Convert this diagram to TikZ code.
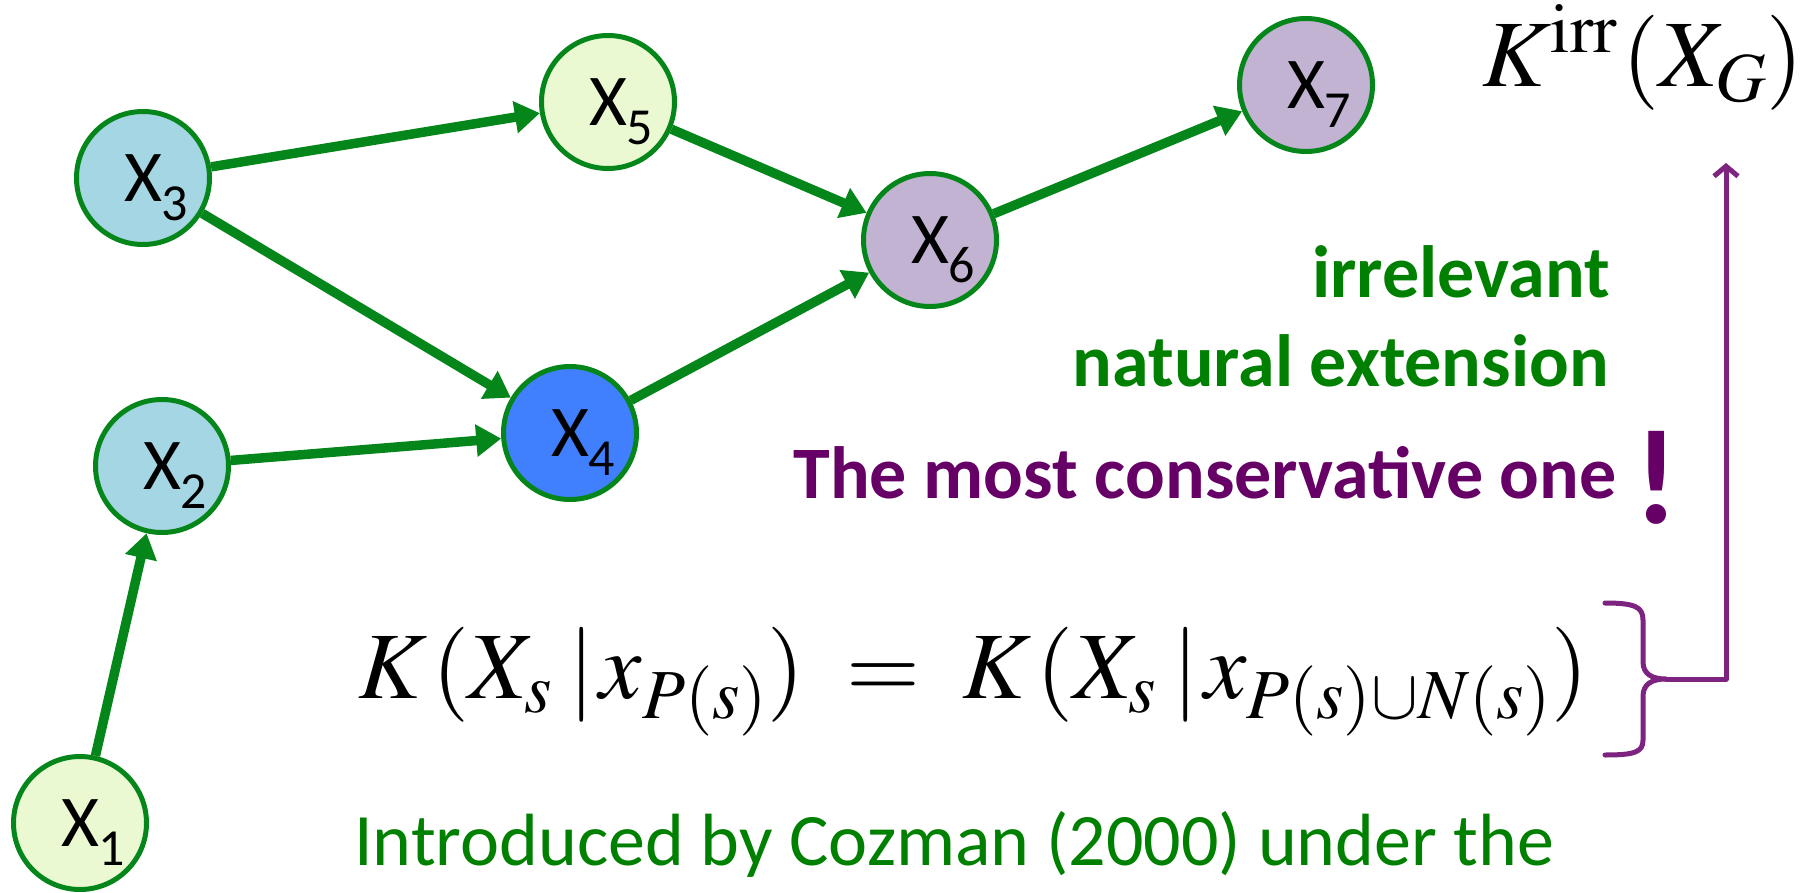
\documentclass[tikz,border=0pt]{standalone}
\usepackage{amsmath}
\usepackage{mathptmx}
\usepackage[no-math]{fontspec}
\setmainfont{Carlito}
\usetikzlibrary{arrows.meta}
\definecolor{edgegreen}{RGB}{5,134,27}
\definecolor{txtgreen}{RGB}{0,128,0}
\definecolor{txtpurple}{RGB}{102,0,102}
\definecolor{brpurple}{RGB}{125,35,128}
\definecolor{fillyellow}{RGB}{235,249,211}
\definecolor{fillblue}{RGB}{165,214,228}
\definecolor{fillstrong}{RGB}{64,128,255}
\definecolor{filllav}{RGB}{193,179,209}
\newcommand{\varlabel}[1]{\fontsize{73}{73}\selectfont X\smash{\rlap{\raisebox{-19pt}{\fontsize{52}{52}\selectfont #1}}}}
\newcommand{\condbar}{\mkern3mu|\mkern1mu}
\begin{document}
\begin{tikzpicture}[x=1pt,y=-1pt,
  var/.style={circle, draw=edgegreen, line width=5pt, minimum size=133pt, inner sep=0pt},
  link/.style={edgegreen, line width=9.5pt, -{Triangle[length=25pt,width=31pt]}},
  boldgreen/.style={anchor=base east, inner sep=0pt, text=txtgreen, font=\fontsize{74}{74}\selectfont\bfseries},
  purplebold/.style={inner sep=0pt, text=txtpurple, font=\fontsize{74}{74}\selectfont\bfseries},
  mathbig/.style={inner sep=0pt, font=\fontsize{95}{95}\selectfont},
  purpleline/.style={brpurple, line width=5pt, line cap=round, line join=round}]
\useasboundingbox (0,0) rectangle (1806,893);

% variables
\node[var, fill=fillyellow] (x1) at (80,823) {\varlabel{1}};
\node[var, fill=fillblue] (x2) at (162,466) {\varlabel{2}};
\node[var, fill=fillblue] (x3) at (143,178) {\varlabel{3}};
\node[var, fill=fillstrong] (x4) at (570,433) {\varlabel{4}};
\node[var, fill=fillyellow] (x5) at (608,102) {\varlabel{5}};
\node[var, fill=filllav] (x6) at (930,240) {\varlabel{6}};
\node[var, fill=filllav] (x7) at (1306,85) {\varlabel{7}};

% edges
\draw[link] (x1) -- (x2);
\draw[link] (x2) -- (x4);
\draw[link] (x3) -- (x4);
\draw[link] (x3) -- (x5);
\draw[link] (x5) -- (x6);
\draw[link] (x4) -- (x6);
\draw[link] (x6) -- (x7);

% texts
\node[boldgreen] (irr) at (1610,298) {irrelevant};
\node[boldgreen] (natext) at (1609,386) {natural extension};
\node[purplebold, anchor=base east] (cons) at (1617,498) {The most conservative one};
\node[purplebold, font=\fontsize{135}{135}\selectfont\bfseries] (excl) at (1656,478) {!};
\node[anchor=base west, inner sep=0pt, text=txtgreen, font=\fontsize{74}{74}\selectfont] (intro) at (354,865) {Introduced by Cozman (2000) under the};

\node[mathbig, anchor=base west] (eq) at (358,698)
  {$K\mkern1mu(X_s\condbar x_{P(s)})\;=\;K\mkern1mu(X_s\condbar x_{P(s)\cup N(s)})$};
\node[mathbig, anchor=base west] (kirr) at (1482,87) {$K^{\mathrm{irr}}\mkern1mu(X_G)$};

% brace and arrow
\draw[purpleline] (1605,603) .. controls (1635,603) and (1643,607) .. (1643,620)
  -- (1643,662) .. controls (1643,674) and (1652,679) .. (1666,679) coordinate (tip)
  .. controls (1652,679) and (1643,684) .. (1643,696)
  -- (1643,740) .. controls (1643,752) and (1635,755) .. (1605,755);
\coordinate (top) at (1726,163);
\draw[purpleline, -{Straight Barb[length=10pt,width=24pt]}] (tip) -| (top);
\end{tikzpicture}
\end{document}
